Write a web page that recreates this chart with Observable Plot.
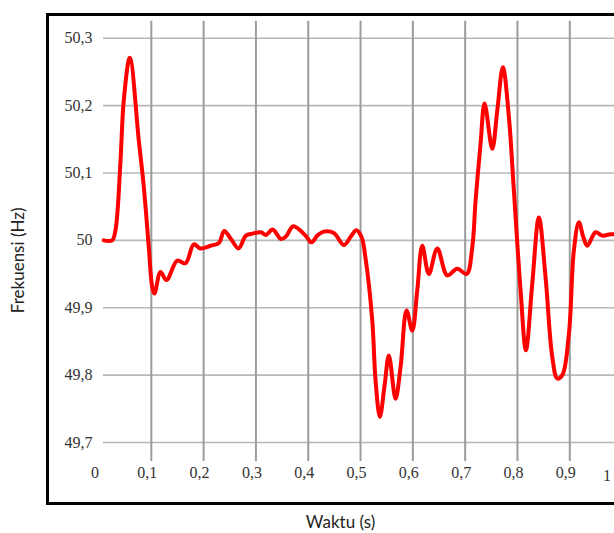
<!DOCTYPE html>
<html><head><meta charset="utf-8">
<script src="https://cdn.jsdelivr.net/npm/d3@7"></script>
<script src="https://cdn.jsdelivr.net/npm/@observablehq/plot@0.6"></script>
<style>
html,body{margin:0;padding:0;background:#fff;overflow:hidden;}
#wrap{position:relative;width:614px;height:533px;overflow:hidden;background:#fff;}
#frame{position:absolute;left:45.5px;top:12.5px;width:700px;height:492px;border:3px solid #000;box-sizing:border-box;}
#chart{position:absolute;left:0;top:0;width:660px;height:533px;}
#chart svg{max-width:none !important;width:660px !important;height:533px !important;}
</style></head><body>
<div id="wrap"><div id="frame"></div><div id="chart"></div></div>
<script>
// time (s)
const time = [0.009,0.025,0.0315,0.0411,0.0474,0.0589,0.0761,0.0857,0.0952,0.1017,0.1061,0.1176,0.129,0.1495,0.1654,0.1813,0.194,0.2132,0.229,0.2396,0.2522,0.2668,0.2809,0.2936,0.3096,0.3192,0.3319,0.348,0.3575,0.3715,0.3948,0.4063,0.4172,0.4298,0.4489,0.4681,0.4809,0.4918,0.5019,0.5096,0.5224,0.5287,0.5369,0.546,0.5541,0.5669,0.5765,0.588,0.5989,0.6084,0.618,0.6306,0.6467,0.6658,0.6849,0.7027,0.7136,0.7199,0.7294,0.7371,0.7518,0.7614,0.7721,0.7836,0.7931,0.8059,0.8161,0.8283,0.8409,0.8537,0.8665,0.8761,0.8857,0.8983,0.9078,0.9174,0.9258,0.9335,0.9493,0.9621,0.978,1.0];
// frequency (Hz)
const freq = [50.0,50.0,50.015,50.118,50.208,50.271,50.148,50.079,49.99,49.931,49.921,49.953,49.941,49.97,49.966,49.994,49.988,49.992,49.996,50.014,50.002,49.988,50.007,50.01,50.012,50.008,50.016,50.002,50.006,50.021,50.007,49.997,50.007,50.013,50.011,49.993,50.005,50.015,50.005,49.973,49.881,49.792,49.738,49.785,49.829,49.765,49.812,49.896,49.866,49.926,49.992,49.95,49.988,49.948,49.958,49.95,49.99,50.059,50.143,50.203,50.136,50.193,50.257,50.183,50.074,49.926,49.837,49.936,50.034,49.945,49.827,49.795,49.8,49.861,49.985,50.027,50.005,49.992,50.012,50.007,50.009,50.008];
const xTicks = [0,0.1,0.2,0.3,0.4,0.5,0.6,0.7,0.8,0.9,1];
const yTicks = [49.7,49.8,49.9,50,50.1,50.2,50.3];
const xLabel = "Waktu (s)";
const yLabel = "Frekuensi (Hz)";

const fmt = d => String(+(+d).toFixed(1)).replace(".", ",");
const data = time.map((t, i) => ({t, f: freq[i]}));
const serif = "'Liberation Serif', 'DejaVu Serif', serif";
const sans = "Lato, 'Open Sans', sans-serif";

const chart = Plot.plot({
  width: 660, height: 533,
  marginLeft: 98.5, marginRight: 38.4, marginTop: 37.7, marginBottom: 91,
  x: {domain: [0, 1], axis: null},
  y: {domain: [49.7, 50.3], axis: null},
  style: {background: "transparent", overflow: "visible", fontFamily: serif, fontSize: "16px", maxWidth: "none"},
  marks: [
    Plot.ruleY(yTicks, {y: d => d, stroke: "#b8b8b8", strokeWidth: 1.6, insetLeft: 4.5}),
    Plot.ruleX(xTicks.filter(d => d > 0), {x: d => d, stroke: "#9c9c9c", strokeWidth: 2, insetTop: -17, insetBottom: -19}),
    Plot.line(data, {x: "t", y: "f", stroke: "#ff0000", strokeWidth: 4, curve: "catmull-rom"}),
    Plot.axisY(yTicks, {tickSize: 0, tickPadding: 6.5, tickFormat: fmt, label: null, fontFamily: serif, fontSize: 16, fill: "#333"}),
    Plot.axisX(xTicks.filter(d => d < 1), {tickSize: 0, tickPadding: 24, tickFormat: fmt, label: null, dx: -4, fontFamily: serif, fontSize: 16, fill: "#333"}),
    Plot.text(xTicks.filter(d => d === 1), {x: d => d, y: 49.7, text: fmt, dy: 33, dx: -15, fontFamily: serif, fontSize: 16, fill: "#333"}),
    Plot.text([xLabel], {text: d => d, frameAnchor: "bottom", textAnchor: "middle", dx: -20, dy: 85, fontFamily: sans, fontSize: 17, fill: "#222"}),
    Plot.text([yLabel], {text: d => d, frameAnchor: "left", textAnchor: "middle", rotate: -90, dx: -80.5, dy: 20, fontFamily: sans, fontSize: 17, fill: "#222"})
  ]
});
document.getElementById("chart").appendChild(chart);
</script>
</body></html>
